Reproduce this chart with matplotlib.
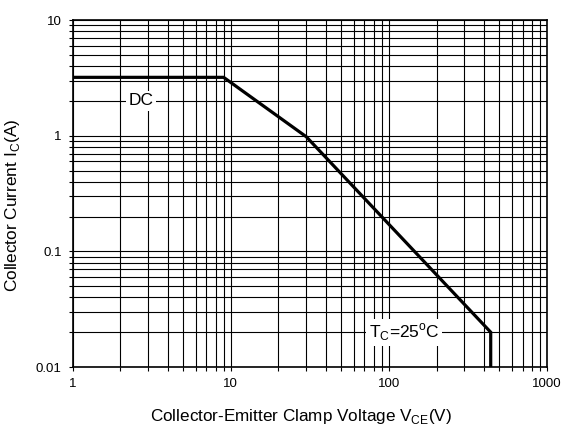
import matplotlib
matplotlib.use("Agg")
import matplotlib.pyplot as plt
from matplotlib.ticker import LogLocator, FixedLocator, FixedFormatter, NullFormatter

plt.rcParams['font.family'] = ['Liberation Sans', 'DejaVu Sans']
plt.rcParams['mathtext.fontset'] = 'custom'
plt.rcParams['mathtext.rm'] = 'Liberation Sans'

# safe operating area curve
vce = [1, 9, 30, 440, 440]
ic = [3.2, 3.2, 0.98, 0.02, 0.01]

x_ticks = [1, 10, 100, 1000]
x_labels = ['1', '10', '100', '1000']
y_ticks = [0.01, 0.1, 1, 10]
y_labels = ['0.01', '0.1', '1', '10']

fig = plt.figure(figsize=(5.64, 4.28), dpi=100)
ax = fig.add_axes([0.129, 0.1425, 0.841, 0.8105])

ax.plot(vce, ic, color='black', linewidth=2.3, solid_joinstyle='miter', zorder=3)

ax.set_xscale('log')
ax.set_yscale('log')
ax.set_xlim(1, 1000)
ax.set_ylim(0.01, 10)

ax.xaxis.set_major_locator(FixedLocator(x_ticks))
ax.xaxis.set_major_formatter(FixedFormatter(x_labels))
ax.yaxis.set_major_locator(FixedLocator(y_ticks))
ax.yaxis.set_major_formatter(FixedFormatter(y_labels))
ax.xaxis.set_minor_locator(LogLocator(base=10, subs=range(2, 10)))
ax.yaxis.set_minor_locator(LogLocator(base=10, subs=range(2, 10)))
ax.xaxis.set_minor_formatter(NullFormatter())
ax.yaxis.set_minor_formatter(NullFormatter())

ax.grid(True, which='both', color='black', linewidth=0.8)
ax.tick_params(which='both', direction='out', length=3, width=0.8, labelsize=9.5, pad=5)
for s in ax.spines.values():
    s.set_linewidth(1.2)

ax.text(2.7, 2.0, 'DC', fontsize=12.5, ha='center', va='center', zorder=4,
        bbox=dict(facecolor='white', edgecolor='none', pad=2))
ax.text(125, 0.02, r'T$_\mathregular{C}$=25$^\mathregular{o}$C', fontsize=12.5,
        ha='center', va='center', zorder=4,
        bbox=dict(facecolor='white', edgecolor='none', pad=2))

ax.set_xlabel(r'Collector-Emitter Clamp Voltage V$_\mathregular{CE}$(V)', fontsize=12.3, labelpad=12)
ax.set_ylabel(r'Collector Current I$_\mathregular{C}$(A)', fontsize=12.4, labelpad=10)
ax.xaxis.label.set_x(0.482)
ax.yaxis.label.set_y(0.467)

fig.savefig('out.png', dpi=100)
